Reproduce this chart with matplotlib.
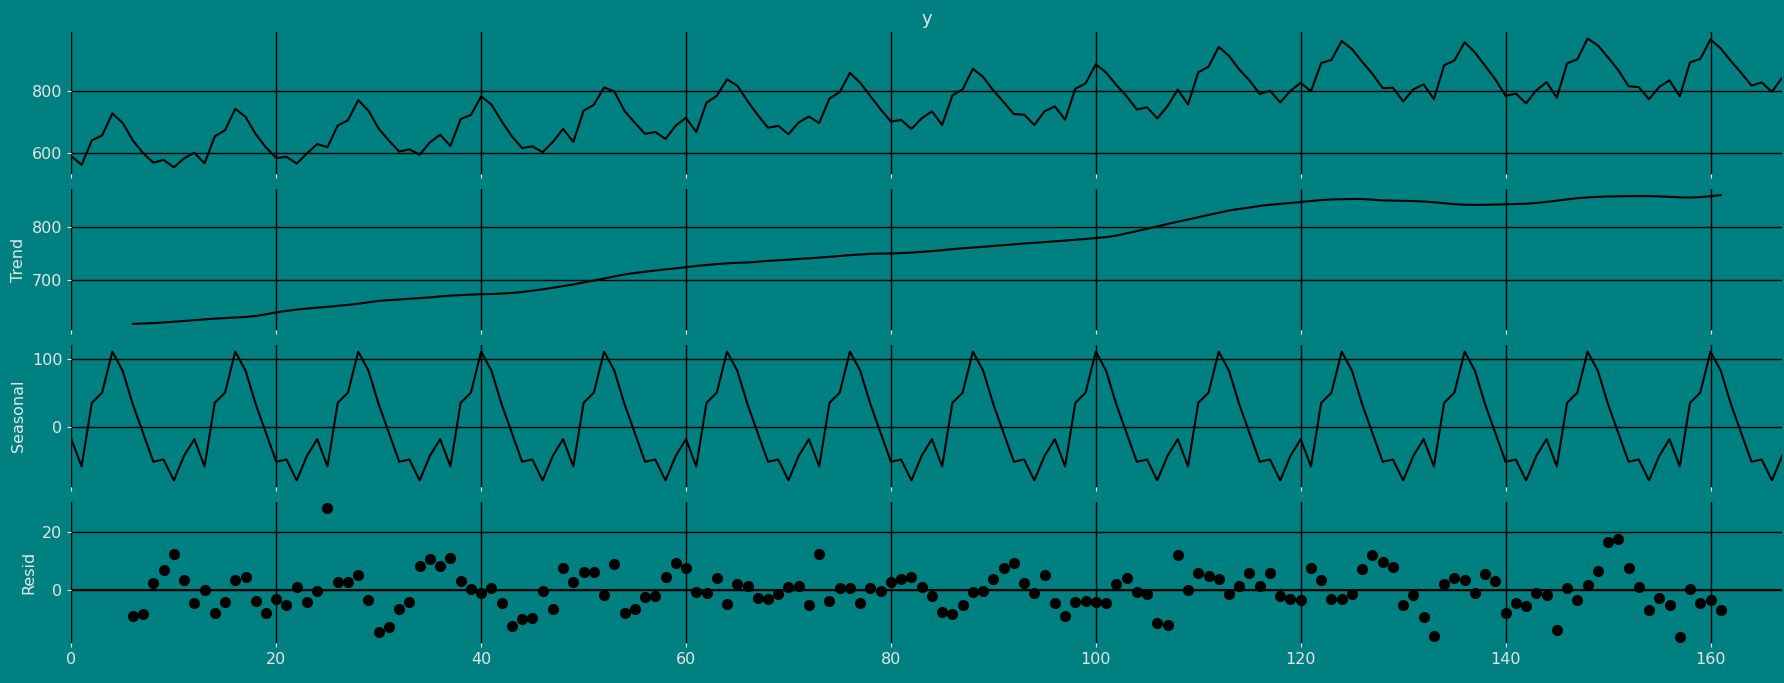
import numpy as np
import matplotlib
matplotlib.use('Agg')
import matplotlib.pyplot as plt
from matplotlib.ticker import MaxNLocator

# monthly milk production, 168 months
milk = [589, 561, 640, 656, 727, 697, 640, 599, 568, 577, 553, 582,
        600, 566, 653, 673, 742, 716, 660, 617, 583, 587, 565, 598,
        628, 618, 688, 705, 770, 736, 678, 639, 604, 611, 594, 634,
        658, 622, 709, 722, 782, 756, 702, 653, 615, 621, 602, 635,
        677, 635, 736, 755, 811, 798, 735, 697, 661, 667, 645, 688,
        713, 667, 762, 784, 837, 817, 767, 722, 681, 687, 660, 698,
        717, 696, 775, 796, 858, 826, 783, 740, 701, 706, 677, 711,
        734, 690, 785, 805, 871, 845, 801, 764, 725, 723, 690, 734,
        750, 707, 807, 824, 886, 859, 819, 783, 740, 747, 711, 751,
        804, 756, 860, 878, 942, 913, 869, 834, 790, 800, 763, 800,
        826, 799, 890, 900, 961, 935, 894, 855, 809, 810, 766, 805,
        821, 773, 883, 898, 957, 924, 881, 837, 784, 791, 760, 802,
        828, 778, 889, 902, 969, 947, 908, 867, 815, 812, 773, 813,
        834, 782, 892, 903, 966, 937, 896, 858, 817, 827, 797, 843]
period = 12

y = np.array(milk, dtype=float)
n = len(y)
idx = np.arange(n)

# classical additive decomposition (2x12 centred moving average)
filt = np.r_[0.5, np.ones(period - 1), 0.5] / period
trend = np.full(n, np.nan)
half = period // 2
trend[half:n - half] = np.convolve(y, filt, mode='valid')
detr = y - trend
season_means = np.array([np.nanmean(detr[i::period]) for i in range(period)])
season_means -= season_means.mean()
seasonal = np.tile(season_means, n // period + 1)[:n]
resid = y - trend - seasonal

bg = '#008080'
fg = '#e6e6e6'
plt.rcParams.update({
    'figure.facecolor': bg, 'axes.facecolor': bg,
    'text.color': fg, 'axes.labelcolor': fg,
    'xtick.color': fg, 'ytick.color': fg,
    'font.size': 11.5,
})

fig, axes = plt.subplots(4, 1, sharex=True, figsize=(17.84, 6.83), dpi=100)
fig.subplots_adjust(left=0.040, right=0.999, top=0.953, bottom=0.058, hspace=0.105)

axes[0].plot(idx, y, color='black')
axes[0].set_title('y', color=fg, fontsize=13)
axes[1].plot(idx, trend, color='black')
axes[1].set_ylabel('Trend')
axes[2].plot(idx, seasonal, color='black')
axes[2].set_ylabel('Seasonal')
axes[3].plot(idx, resid, marker='o', markersize=7, linestyle='none', color='black')
axes[3].axhline(0, color='black', zorder=-3, lw=1.5)
axes[3].set_ylabel('Resid')

for ax in axes:
    ax.set_xlim(0, n - 1)
    ax.yaxis.set_major_locator(MaxNLocator(3, steps=[1, 2, 5, 10]))
    ax.grid(True, color='black', lw=1)
    ax.set_axisbelow(True)
    for s in ax.spines.values():
        s.set_visible(False)
    ax.tick_params(length=3, width=0.8, labelcolor=fg)

fig.savefig('out.png', dpi=100, facecolor=bg)
